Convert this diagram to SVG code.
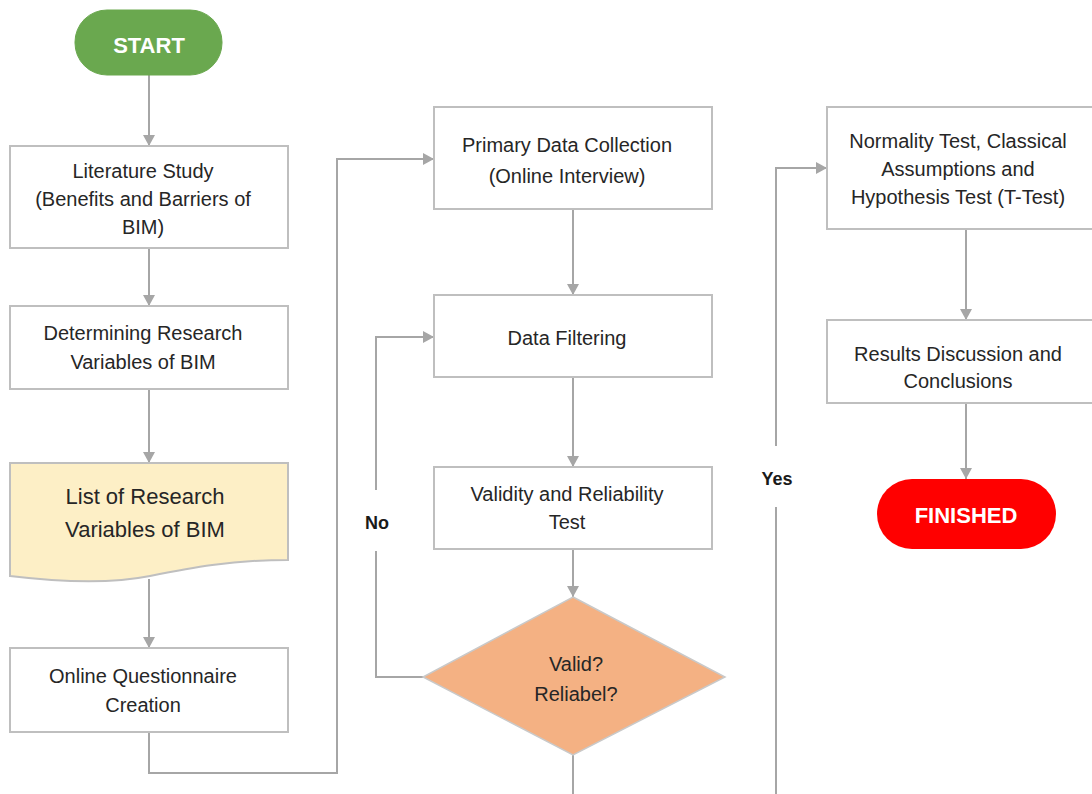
<svg xmlns="http://www.w3.org/2000/svg" width="1092" height="794" viewBox="0 0 1092 794">
<defs>
<marker id="arr" markerUnits="userSpaceOnUse" markerWidth="12" markerHeight="12" refX="11" refY="6" orient="auto">
<path d="M0,0 L11,6 L0,12 Z" fill="#a6a6a6"/>
</marker>
<style>
.box{fill:#ffffff;stroke:#bfbfbf;stroke-width:2}
.t{font-family:"Liberation Sans",Arial,sans-serif;font-size:20px;fill:#262626;text-anchor:middle}
.tl{font-family:"Liberation Sans",Arial,sans-serif;font-size:22px;fill:#262626;text-anchor:middle}
.tw{font-family:"Liberation Sans",Arial,sans-serif;font-size:22px;font-weight:bold;fill:#ffffff;text-anchor:middle}
.tb{font-family:"Liberation Sans",Arial,sans-serif;font-size:18px;font-weight:bold;fill:#1a1a1a;text-anchor:middle}
.c{fill:none;stroke:#a6a6a6;stroke-width:2}
.ca{fill:none;stroke:#a6a6a6;stroke-width:2;marker-end:url(#arr)}
</style>
</defs>
<rect width="1092" height="794" fill="#ffffff"/>
<g id="connectors">
<line class="ca" x1="149" y1="75" x2="149" y2="146"/>
<line class="ca" x1="149" y1="248" x2="149" y2="306"/>
<line class="ca" x1="149" y1="389" x2="149" y2="463"/>
<line class="ca" x1="149" y1="579" x2="149" y2="648"/>
<polyline class="ca" points="149,732 149,773 337,773 337,159 434,159"/>
<line class="ca" x1="573" y1="209" x2="573" y2="295"/>
<line class="ca" x1="573" y1="377" x2="573" y2="467"/>
<line class="ca" x1="573" y1="549" x2="573" y2="597"/>
<polyline class="ca" points="423,677 376,677 376,337 434,337"/>
<line class="c" x1="573" y1="755" x2="573" y2="794"/>
<polyline class="ca" points="776,794 776,168 827,168"/>
<line class="ca" x1="966" y1="229" x2="966" y2="320"/>
<line class="ca" x1="966" y1="403" x2="966" y2="479"/>
<rect x="343" y="490" width="77" height="61" fill="#ffffff"/>
<text class="tb" x="377" y="529">No</text>
<rect x="744" y="446" width="82" height="61" fill="#ffffff"/>
<text class="tb" x="777" y="485">Yes</text>
</g>
<g id="start">
<rect x="75" y="10" width="147" height="65" rx="32" ry="32" fill="#6aa84f" stroke="#6aa84f"/>
<text class="tw" x="149" y="53">START</text>
</g>
<g id="literature">
<rect class="box" x="10" y="146" width="278" height="102"/>
<text class="t" x="143" y="178">Literature Study</text>
<text class="t" x="143" y="206">(Benefits and Barriers of</text>
<text class="t" x="143" y="234">BIM)</text>
</g>
<g id="determining">
<rect class="box" x="10" y="306" width="278" height="83"/>
<text class="t" x="143" y="340">Determining Research</text>
<text class="t" x="143" y="369">Variables of BIM</text>
</g>
<g id="list">
<path d="M10,463 H288 V560 C230,560 190,568 150,576 C110,584 60,582 10,576 Z" fill="#fdefc6" stroke="#bfbfbf" stroke-width="2"/>
<text class="tl" x="145" y="504">List of Research</text>
<text class="tl" x="145" y="537">Variables of BIM</text>
</g>
<g id="questionnaire">
<rect class="box" x="10" y="648" width="278" height="84"/>
<text class="t" x="143" y="683">Online Questionnaire</text>
<text class="t" x="143" y="712">Creation</text>
</g>
<g id="primary">
<rect class="box" x="434" y="107" width="278" height="102"/>
<text class="t" x="567" y="152">Primary Data Collection</text>
<text class="t" x="567" y="183">(Online Interview)</text>
</g>
<g id="filtering">
<rect class="box" x="434" y="295" width="278" height="82"/>
<text class="t" x="567" y="345">Data Filtering</text>
</g>
<g id="validity">
<rect class="box" x="434" y="467" width="278" height="82"/>
<text class="t" x="567" y="501">Validity and Reliability</text>
<text class="t" x="567" y="529">Test</text>
</g>
<g id="decision">
<polygon points="573,597 725,677 573,755 423,677" fill="#f4b183" stroke="#c9c9c9" stroke-width="1.5"/>
<text class="t" x="576" y="671">Valid?</text>
<text class="t" x="576" y="701">Reliabel?</text>
</g>
<g id="normality">
<rect class="box" x="827" y="107" width="278" height="122"/>
<text class="t" x="958" y="148">Normality Test, Classical</text>
<text class="t" x="958" y="176">Assumptions and</text>
<text class="t" x="958" y="204">Hypothesis Test (T-Test)</text>
</g>
<g id="results">
<rect class="box" x="827" y="320" width="278" height="83"/>
<text class="t" x="958" y="361">Results Discussion and</text>
<text class="t" x="958" y="388">Conclusions</text>
</g>
<g id="finished">
<rect x="877" y="479" width="179" height="70" rx="35" ry="35" fill="#ff0000"/>
<text class="tw" x="966" y="523">FINISHED</text>
</g>
</svg>
